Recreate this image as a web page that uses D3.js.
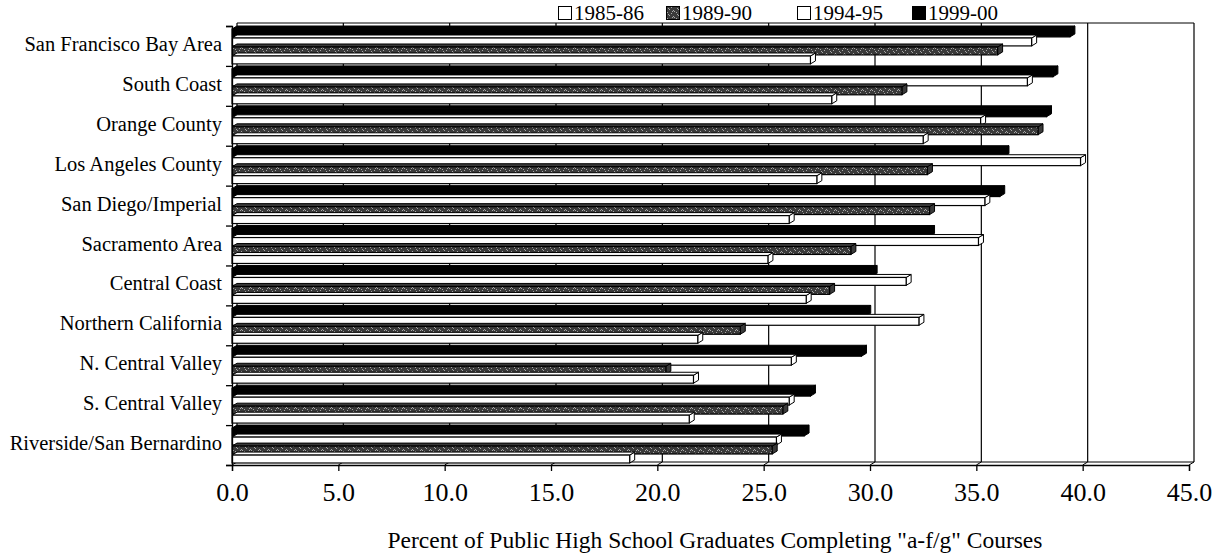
<!DOCTYPE html>
<html>
<head>
<meta charset="utf-8">
<script src="https://cdn.jsdelivr.net/npm/d3@7"></script>
<style>
  body { margin: 0; background: #fff; }
  text { font-family: "Liberation Serif", "Times New Roman", serif; fill: #000; }
</style>
</head>
<body>
<svg id="chart" width="1219" height="558"></svg>
<script>
// data
var regions = ['San Francisco Bay Area', 'South Coast', 'Orange County', 'Los Angeles County',
  'San Diego/Imperial', 'Sacramento Area', 'Central Coast', 'Northern California',
  'N. Central Valley', 'S. Central Valley', 'Riverside/San Bernardino'];
var years = ['1985-86', '1989-90', '1994-95', '1999-00'];
var v1985 = [27.2, 28.2, 32.5, 27.5, 26.2, 25.2, 27.0, 21.9, 21.7, 21.5, 18.7];
var v1989 = [36.0, 31.5, 37.9, 32.7, 32.8, 29.1, 28.1, 23.9, 20.4, 25.9, 25.4];
var v1994 = [37.6, 37.4, 35.2, 39.9, 35.4, 35.1, 31.7, 32.3, 26.3, 26.2, 25.6];
var v1999 = [39.4, 38.6, 38.3, 36.3, 36.1, 32.8, 30.1, 29.8, 29.6, 27.2, 26.9];
var xTicks = [0, 5, 10, 15, 20, 25, 30, 35, 40, 45];
var xTitle = 'Percent of Public High School Graduates Completing "a-f/g" Courses';

var seriesVals = {'1985-86': v1985, '1989-90': v1989, '1994-95': v1994, '1999-00': v1999};

// 畫布
var svg = d3.select('#chart');
const plot = {left: 232, right: 1189, top: 26, bottom: 465};
const dx = 5, dy = -3;  // 3D深度

var defs = svg.append('defs');
var pat = defs.append('pattern')
  .attr('id', 'speckle')
  .attr('patternUnits', 'userSpaceOnUse')
  .attr('width', 9).attr('height', 6);
pat.append('rect').attr('width', 9).attr('height', 6).attr('fill', '#3a3a3a');
[[1, 1], [5, 2], [3, 4], [7, 5], [8, 0], [2, 3], [6, 0]].forEach(function(p) {
  pat.append('rect').attr('x', p[0]).attr('y', p[1]).attr('width', 1).attr('height', 1).attr('fill', '#a8a8a8');
});

var fills = {'1985-86': '#fff', '1989-90': 'url(#speckle)', '1994-95': '#fff', '1999-00': '#000'};
var sideFill = {'1985-86': '#fff', '1989-90': '#3a3a3a', '1994-95': '#fff', '1999-00': '#000'};

var x = d3.scaleLinear().domain([0, 45]).range([plot.left, plot.right]);
var y = d3.scaleBand().domain(regions).range([plot.top, plot.bottom]);
// 每組裡由上到下: 1999-00, 1994-95, 1989-90, 1985-86
var ySub = d3.scaleBand().domain(years.slice().reverse())
  .range([3, y.bandwidth() - 2]).paddingInner(0.12);

// back wall gridlines
var grid = svg.append('g').attr('class', 'grid');
grid.selectAll('line.v')
  .data(xTicks)
  .enter().append('line')
  .attr('x1', d => x(d) + dx).attr('x2', d => x(d) + dx)
  .attr('y1', plot.top + dy).attr('y2', plot.bottom + dy)
  .attr('stroke', '#000').attr('stroke-width', 1.2);
grid.selectAll('line.s')
  .data(xTicks)
  .enter().append('line')
  .attr('x1', d => x(d)).attr('x2', d => x(d) + dx)
  .attr('y1', plot.bottom).attr('y2', plot.bottom + dy)
  .attr('stroke', '#000').attr('stroke-width', 1);
grid.append('line')
  .attr('x1', x(0) + dx).attr('x2', x(45) + dx)
  .attr('y1', plot.top + dy).attr('y2', plot.top + dy)
  .attr('stroke', '#000').attr('stroke-width', 1);
grid.append('line')
  .attr('x1', x(0) + dx).attr('x2', x(45) + dx)
  .attr('y1', plot.bottom + dy).attr('y2', plot.bottom + dy)
  .attr('stroke', '#000').attr('stroke-width', 1);

// bars (從下往上畫)
var rows = [];
regions.forEach(function(r, i) {
  years.forEach(function(yr) {
    rows.push({region: r, year: yr, value: seriesVals[yr][i]});
  });
});
rows.reverse();

var barG = svg.append('g').attr('class', 'bars')
  .selectAll('g.bar')
  .data(rows)
  .enter().append('g')
  .attr('class', 'bar');

// 側面
barG.append('path')
  .attr('d', function(d) {
    var y0 = y(d.region) + ySub(d.year), h = ySub.bandwidth(), x1 = x(d.value);
    return 'M' + x1 + ',' + y0 + 'L' + (x1 + dx) + ',' + (y0 + dy) + 'L' + (x1 + dx) + ',' + (y0 + h + dy) + 'L' + x1 + ',' + (y0 + h) + 'Z';
  })
  .attr('fill', d => sideFill[d.year])
  .attr('stroke', '#000').attr('stroke-width', 1);
// 上面
barG.append('path')
  .attr('d', function(d) {
    var y0 = y(d.region) + ySub(d.year), x0 = x(0), x1 = x(d.value);
    return 'M' + x0 + ',' + y0 + 'L' + (x0 + dx) + ',' + (y0 + dy) + 'L' + (x1 + dx) + ',' + (y0 + dy) + 'L' + x1 + ',' + y0 + 'Z';
  })
  .attr('fill', d => sideFill[d.year])
  .attr('stroke', '#000').attr('stroke-width', 1);
barG.append('rect')
  .attr('x', x(0))
  .attr('y', d => y(d.region) + ySub(d.year))
  .attr('width', d => x(d.value) - x(0))
  .attr('height', ySub.bandwidth())
  .attr('fill', d => fills[d.year])
  .attr('stroke', '#000').attr('stroke-width', 1.2);

// left axis
var yEdge = d3.scaleLinear().domain([0, regions.length]).range([plot.top, plot.bottom]);
svg.append('g')
  .attr('transform', `translate(${plot.left},0)`)
  .call(d3.axisLeft(yEdge).ticks(regions.length).tickSize(6).tickFormat(''))
  .call(g => g.selectAll('line, path').attr('stroke', '#000').attr('stroke-width', 1.3));

svg.append('g')
  .selectAll('text')
  .data(regions)
  .enter().append('text')
  .attr('x', 222)
  .attr('y', d => y(d) + y.bandwidth() / 2 + 5)
  .style('text-anchor', 'end')
  .style('font-size', '20.5px')
  .text(d => d);

// x axis
var xAxis = d3.axisBottom(x)
  .tickValues(xTicks)
  .tickSize(6)
  .tickPadding(12)
  .tickFormat(d3.format('.1f'));
svg.append('g')
  .attr('transform', `translate(0,${plot.bottom})`)
  .call(xAxis)
  .call(g => g.selectAll('line, path').attr('stroke', '#000').attr('stroke-width', 1.3))
  .call(g => g.selectAll('text').style('font-size', '26px').attr('font-family', null));

svg.append('text')
  .attr('x', 715)
  .attr('y', 548)
  .style('text-anchor', 'middle')
  .style('font-size', '23.5px')
  .text(xTitle);

// legend
var legendX = [558, 666, 797, 912];
var legend = svg.append('g').selectAll('g')
  .data(years)
  .enter().append('g')
  .attr('transform', (d, i) => `translate(${legendX[i]},-1)`);
legend.append('rect')
  .attr('x', 0.5).attr('y', 7.5)
  .attr('width', 13).attr('height', 13)
  .attr('fill', d => fills[d])
  .attr('stroke', '#000').attr('stroke-width', 1);
legend.append('text')
  .attr('x', 16).attr('y', 21)
  .style('font-size', '21px')
  .text(d => d);
</script>
</body>
</html>
